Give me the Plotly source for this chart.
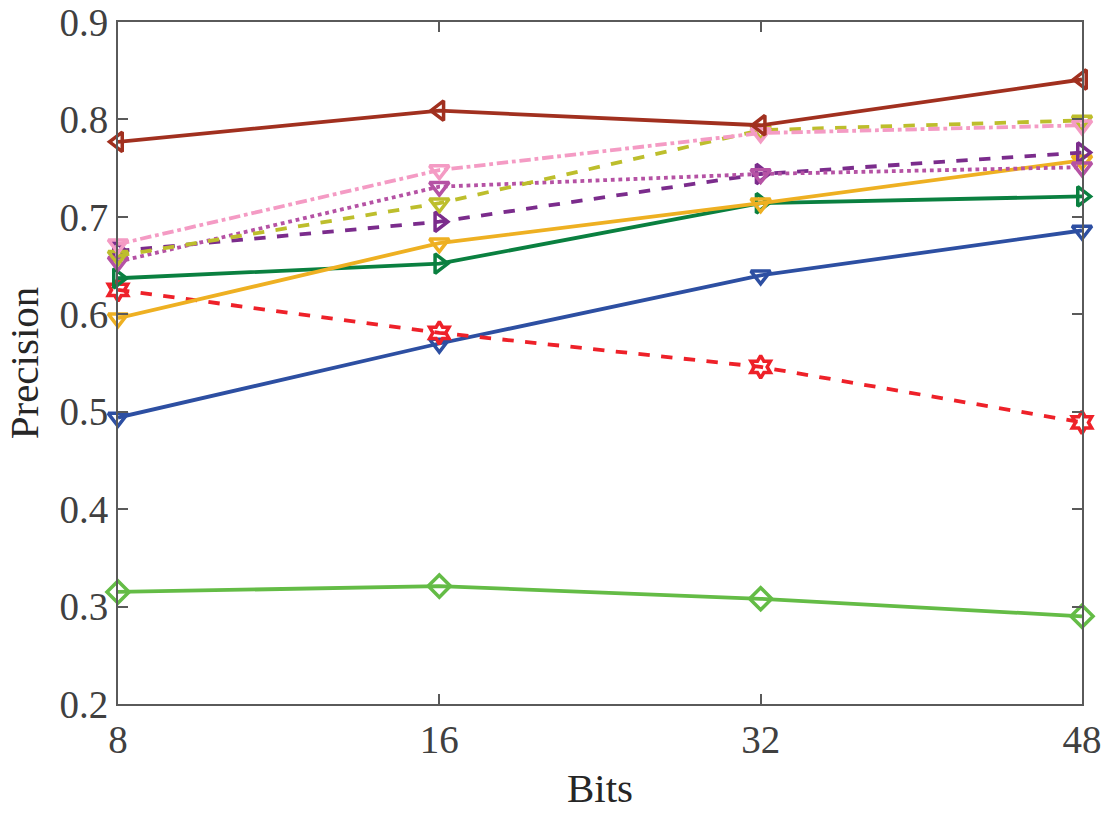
import plotly.graph_objects as go

bits = ["8", "16", "32", "48"]
xpos = [0, 1, 2, 3]

s_brown = [0.777, 0.809, 0.794, 0.841]
s_olive = [0.660, 0.714, 0.789, 0.799]
s_pink = [0.672, 0.748, 0.786, 0.794]
s_purple = [0.665, 0.695, 0.744, 0.766]
s_magenta = [0.654, 0.731, 0.744, 0.751]
s_orange = [0.596, 0.673, 0.714, 0.758]
s_green = [0.637, 0.652, 0.714, 0.721]
s_red = [0.625, 0.581, 0.546, 0.489]
s_blue = [0.494, 0.570, 0.640, 0.686]
s_lgreen = [0.315, 0.321, 0.308, 0.290]

series = [
    (s_lgreen, "#64BC46", "solid", "diamond-open"),
    (s_blue, "#2D4FA2", "solid", "triangle-down-open"),
    (s_red, "#EE2129", "dash", "hexagram-open"),
    (s_green, "#0A8040", "solid", "triangle-right-open"),
    (s_orange, "#EEB022", "solid", "triangle-down-open"),
    (s_purple, "#7B2C8C", "dash", "triangle-right-open"),
    (s_magenta, "#B552A4", "dot", "triangle-down-open"),
    (s_olive, "#BDBE2C", "dash", "triangle-down-open"),
    (s_pink, "#F49BC4", "dashdot", "triangle-down-open"),
    (s_brown, "#A1301F", "solid", "triangle-left-open"),
]

fig = go.Figure()
for vals, col, dash, sym in series:
    fig.add_trace(go.Scatter(
        x=xpos, y=vals, mode="lines+markers",
        line=dict(color=col, width=3.8, dash=dash),
        marker=dict(symbol=sym, size=17, color=col, line=dict(color=col, width=3.5)),
        showlegend=False, cliponaxis=False,
    ))

axis_common = dict(
    showline=True, linecolor="#5a5a5a", linewidth=2, mirror="ticks",
    ticks="inside", ticklen=10, tickwidth=2, tickcolor="#5a5a5a",
    showgrid=False, zeroline=False, automargin=False,
    tickfont=dict(family="Liberation Serif", size=39, color="#404040"),
)

fig.update_xaxes(
    range=[0, 3], tickmode="array", tickvals=xpos, ticktext=bits,
    title=dict(text="Bits", font=dict(family="Liberation Serif", size=41, color="#262626"), standoff=14),
    **axis_common,
)
fig.update_yaxes(
    range=[0.2, 0.9], tickmode="array",
    tickvals=[0.2, 0.3, 0.4, 0.5, 0.6, 0.7, 0.8, 0.9],
    ticktext=["0.2", "0.3", "0.4", "0.5", "0.6", "0.7", "0.8", "0.9"],
    title=dict(text="Precision", font=dict(family="Liberation Serif", size=41, color="#262626"), standoff=8),
    **axis_common,
)

fig.update_layout(
    width=1117, height=815,
    margin=dict(l=118, r=35, t=22, b=111),
    plot_bgcolor="white", paper_bgcolor="white",
)

fig.write_html("out.html")
